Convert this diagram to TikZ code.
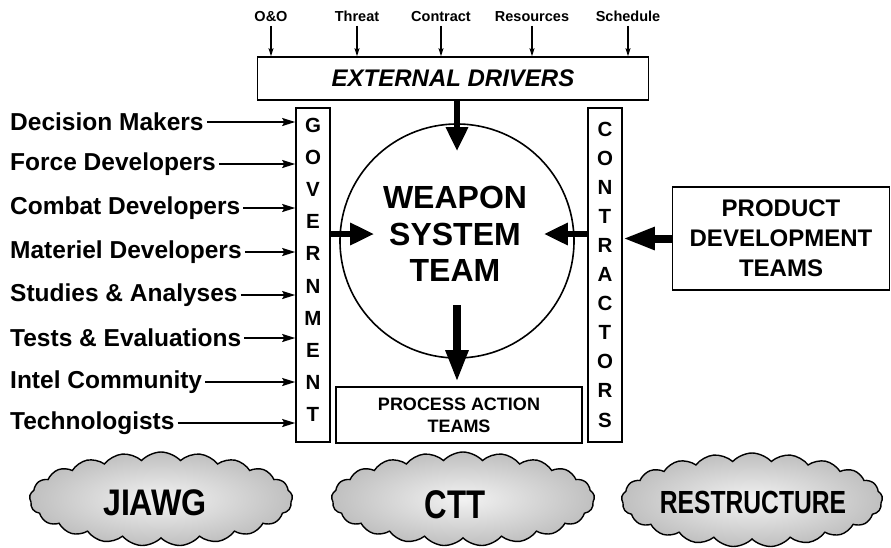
\documentclass[tikz,border=0pt]{standalone}
\usepackage{fontspec}
\setmainfont{Liberation Sans}
\usetikzlibrary{arrows.meta,shapes.symbols,calc}
\begin{document}
\begin{tikzpicture}[x=1pt,y=-1pt,
  lab/.style={font=\fontsize{24.5}{26}\selectfont\bfseries, anchor=west, inner sep=3pt},
  toplab/.style={font=\fontsize{14.5}{16}\selectfont\bfseries, inner sep=1pt, text height=10.5pt, text depth=3pt},
  frame/.style={draw, line width=1.6pt, inner sep=0pt},
  letter/.style={font=\fontsize{20.5}{21}\selectfont\bfseries, inner sep=0pt},
  thinarr/.style={line width=1.5pt, -{Stealth[length=13pt,width=8pt,inset=2pt]}},
  smallarr/.style={line width=1.1pt, -{Stealth[length=8pt,width=5pt,inset=1.5pt]}},
  bigarr/.style={line width=6pt, -{Triangle[length=24pt,width=21pt]}},
  hugearr/.style={line width=8pt, -{Triangle[length=32pt,width=21pt]}},
  cloudnode/.style={cloud, cloud puffs=21, cloud puff arc=95, cloud ignores aspect, draw, line width=1.4pt, inner color=gray!10, outer color=gray!50, minimum height=94pt},
  cloudtxt/.style={inner sep=0pt}
]
\useasboundingbox (0,0) rectangle (891,547);
\fill[white] (0,0) rectangle (891,547);

% external drivers
\node[frame, minimum width=391pt, minimum height=43pt] (ext) at (453,78.5) {\fontsize{24}{28}\selectfont\bfseries\itshape EXTERNAL DRIVERS};

\node[toplab] (oo) at (271,18) {O\&O};
\node[toplab] (th) at (357,18) {Threat};
\node[toplab] (co) at (441,18) {Contract};
\node[toplab] (re) at (532,18) {Resources};
\node[toplab] (sc) at (628,18) {Schedule};
\foreach \n in {oo,th,co,re,sc}
  \draw[smallarr] (\n) -- (\n |- ext.north);

% government
\node[frame, minimum width=34pt, minimum height=334pt] (gov) at (313,275) {};
\foreach \l [count=\i from 0] in {G,O,V,E,R,N,M,E,N,T}
  \node[letter] (g\i) at (313,125+32.2*\i) {\l};

% contractors
\node[frame, minimum width=34pt, minimum height=334pt] (con) at (605,275) {};
\foreach \l [count=\i from 0] in {C,O,N,T,R,A,C,T,O,R,S}
  \node[letter] (c\i) at (605,129+29.1*\i) {\l};

% weapon system team
\node[draw, circle, line width=1.6pt, minimum size=234pt, inner sep=0pt] (wst) at (457,241) {};
\node[font=\fontsize{32}{36.5}\selectfont\bfseries, align=center] (wsttxt) at (455,234) {WEAPON\\SYSTEM\\TEAM};

% process action teams
\node[frame, minimum width=246pt, minimum height=56pt, align=center, font=\fontsize{18}{22}\selectfont\bfseries] (pat) at (459,415) {PROCESS ACTION\\TEAMS};

% product development teams
\node[frame, minimum width=217pt, minimum height=103pt, align=center, font=\fontsize{24}{30}\selectfont\bfseries] (pdt) at (781,238.5) {PRODUCT\\DEVELOPMENT\\TEAMS};

% thick arrows
\draw[bigarr] (ext.south -| wst) -- ($(wst.north)+(0,28)$);
\draw[bigarr] (gov.east |- wsttxt) -- ($(wst.west |- wsttxt)+(35,0)$);
\draw[bigarr] (con.west |- wsttxt) -- ($(wst.east |- wsttxt)+(-31,0)$);
\draw[hugearr] ($(wst.center)+(0,64)$) -- ($(pat.north -| wst)+(0,-4)$);
\draw[hugearr] (pdt.west) -- (con.east |- pdt.west);

% left labels
\foreach \t/\y [count=\i] in {Decision Makers/122, Force Developers/164, Combat Developers/208, Materiel Developers/252, Studies \& Analyses/295, Tests \& Evaluations/338, Intel Community/382, Technologists/423}
{
  \node[lab] (l\i) at (7,\y) {\t};
  \draw[thinarr] (l\i) -- (l\i -| gov.west);
}

% clouds
\node[cloudnode, minimum width=263pt] (cl1) at (161,499) {};
\node[cloudtxt] (ct1) at (155,503) {\scalebox{0.87}[1]{\fontsize{37}{37}\selectfont\bfseries JIAWG}};
\node[cloudnode, minimum width=263pt] (cl2) at (463,499) {};
\node[cloudtxt] (ct2) at (455,505) {\scalebox{0.78}[1]{\fontsize{40}{40}\selectfont\bfseries CTT}};
\node[cloudnode, minimum width=261pt] (cl3) at (752,500) {};
\node[cloudtxt] (ct3) at (753,502) {\scalebox{0.77}[1]{\fontsize{32}{32}\selectfont\bfseries RESTRUCTURE}};
\end{tikzpicture}
\end{document}
